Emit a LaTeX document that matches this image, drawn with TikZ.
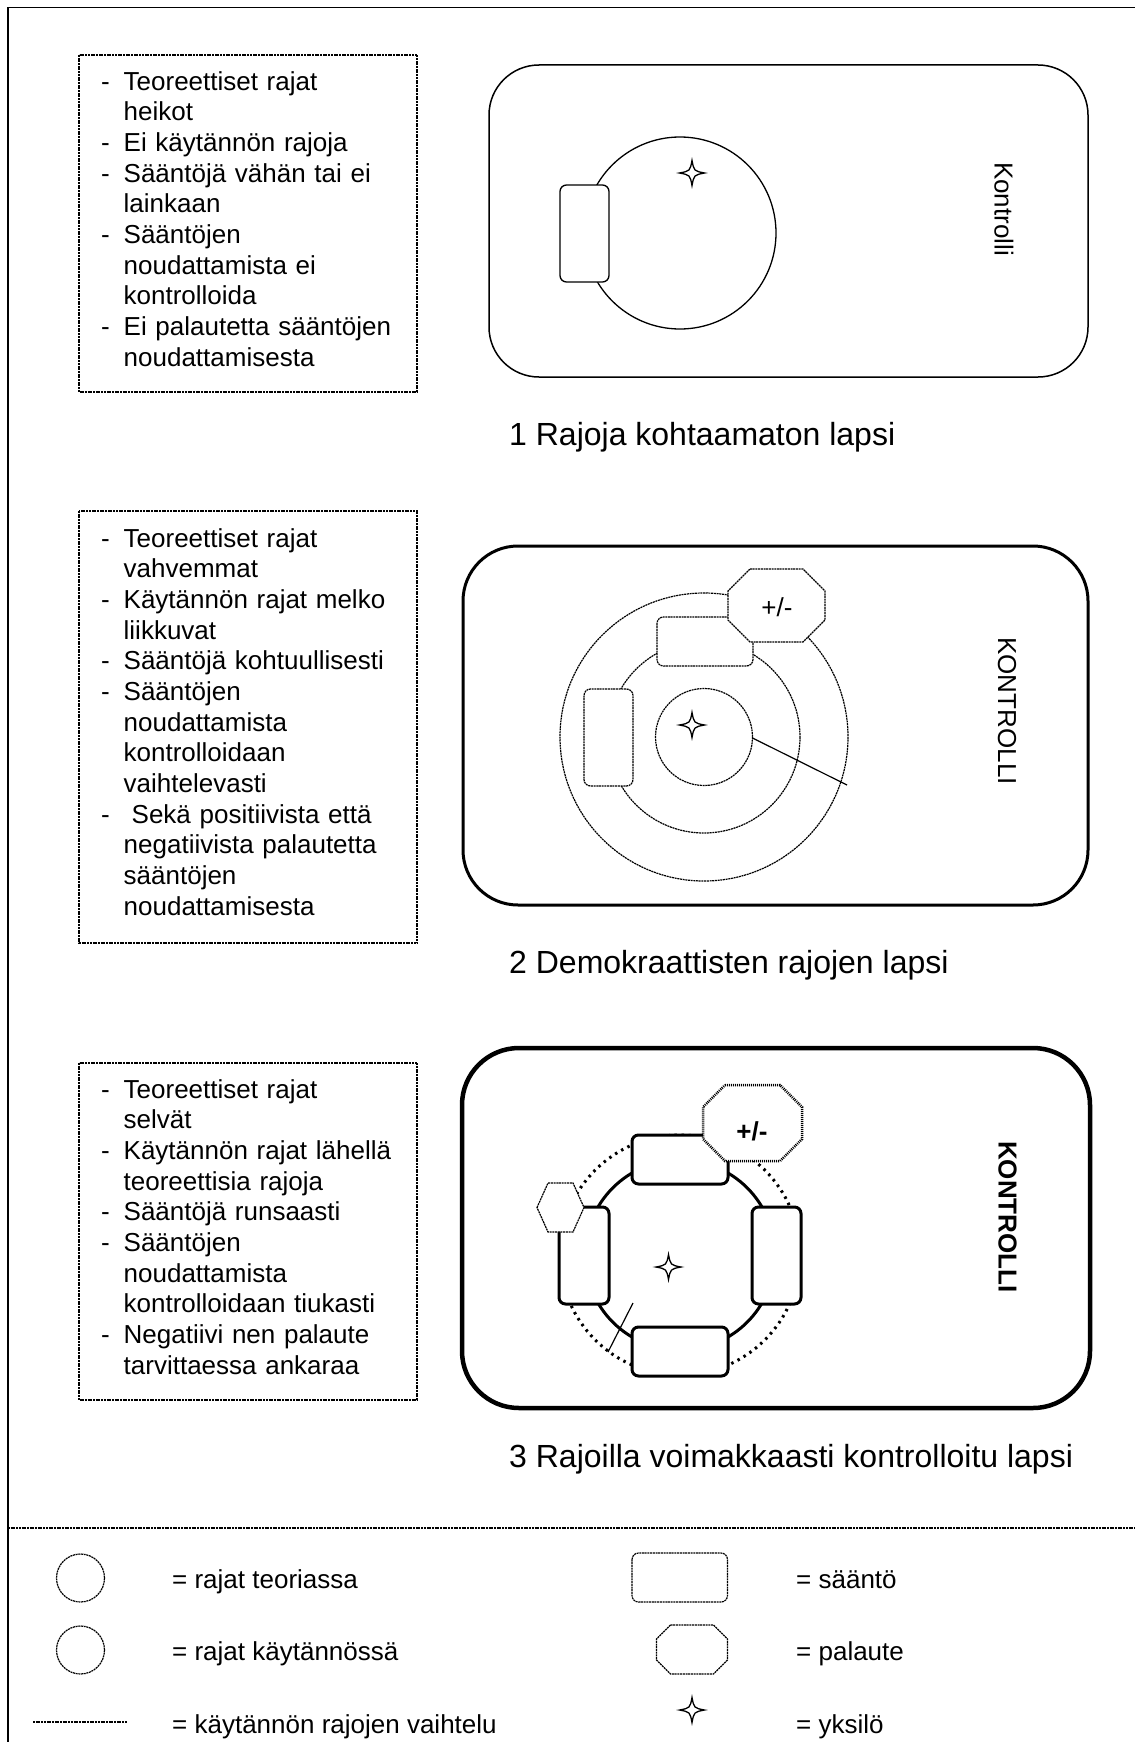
\documentclass[tikz,border=0pt]{standalone}
\usepackage{fontspec}
\setmainfont{Liberation Sans}
\setlength{\parindent}{0pt}
\newcommand\ditem[1]{\makebox[22.5pt][l]{-}#1}
\newcommand\dcont[1]{\hspace*{22.5pt}#1}
\tikzset{
  fine/.style={line width=1.2pt, dash pattern=on 2pt off 0.7pt},
  bodyfont/.style={font=\fontsize{26}{30.67}\selectfont},
  boldfont/.style={font=\fontsize{26}{30.67}\selectfont\bfseries},
  capfont/.style={font=\fontsize{32}{38}\selectfont},
  listtxt/.style={bodyfont, anchor=north west, inner sep=0pt, text width=310pt, align=left},
  legtxt/.style={bodyfont, anchor=base west, inner sep=0pt},
  captxt/.style={capfont, anchor=base west, inner sep=0pt},
  sidetxt/.style={rotate=-90, inner sep=0pt},
  rulebox/.style={rounded corners=6.5pt, fill=white},
  yks/.pic={\draw[line width=1.3pt, fill=white] (0,-12.5) .. controls (2,-2) .. (12.5,0) .. controls (2,2) .. (0,12.5) .. controls (-2,2) .. (-12.5,0) .. controls (-2,-2) .. cycle;}
}
\begin{document}
\begin{tikzpicture}[x=1pt,y=-1pt]
\useasboundingbox (0,0) rectangle (1135,1742);
\fill[white] (0,0) rectangle (1135,1742);
% frame
\draw[line width=1.5pt] (8,1742) -- (8,7.5) -- (1135,7.5);
\draw[fine] (8,1528) -- (1135,1528);

% ---------- text boxes ----------
\draw[fine] (79,55) rectangle (417,392);
\node[listtxt] (t1) at (101,66) {\rule{0pt}{24pt}\ditem{Teoreettiset rajat}\\
\dcont{heikot}\\
\ditem{Ei käytännön rajoja}\\
\ditem{Sääntöjä vähän tai ei}\\
\dcont{lainkaan}\\
\ditem{Sääntöjen}\\
\dcont{noudattamista ei}\\
\dcont{kontrolloida}\\
\ditem{Ei palautetta sääntöjen}\\
\dcont{noudattamisesta}};

\draw[fine] (79,511) rectangle (417,943);
\node[listtxt] (t2) at (101,523) {\rule{0pt}{24pt}\ditem{Teoreettiset rajat}\\
\dcont{vahvemmat}\\
\ditem{Käytännön rajat melko}\\
\dcont{liikkuvat}\\
\ditem{Sääntöjä kohtuullisesti}\\
\ditem{Sääntöjen}\\
\dcont{noudattamista}\\
\dcont{kontrolloidaan}\\
\dcont{vaihtelevasti}\\
\ditem{\hspace{8pt}Sekä positiivista että}\\
\dcont{negatiivista palautetta}\\
\dcont{sääntöjen}\\
\dcont{noudattamisesta}};

\draw[fine] (79,1063) rectangle (417,1400);
\node[listtxt] (t3) at (101,1074) {\rule{0pt}{24pt}\ditem{Teoreettiset rajat}\\
\dcont{selvät}\\
\ditem{Käytännön rajat lähellä}\\
\dcont{teoreettisia rajoja}\\
\ditem{Sääntöjä runsaasti}\\
\ditem{Sääntöjen}\\
\dcont{noudattamista}\\
\dcont{kontrolloidaan tiukasti}\\
\ditem{Negatiivi nen palaute}\\
\dcont{tarvittaessa ankaraa}};

% ---------- diagram 1 ----------
\draw[line width=1.5pt, rounded corners=50pt] (489,65) rectangle (1088,377);
\draw[line width=1.3pt] (680,233) circle[radius=96];
\draw[line width=1.3pt, rulebox] (560,185) rectangle (609,282);
\pic at (692,173) {yks};
\node[sidetxt, bodyfont] (k1) at (1004,209) {Kontrolli};
\node[captxt] (c1) at (509,445) {1 Rajoja kohtaamaton lapsi};

% ---------- diagram 2 ----------
\draw[line width=3pt, rounded corners=55pt] (463,546) rectangle (1088,905);
\draw[fine] (704,737) circle[radius=144];
\draw[fine] (704,737) circle[radius=96];
\draw[fine] (704,737) circle[radius=48.5];
\draw[line width=1.2pt] (752.5,738) -- (847,785);
\draw[fine, rulebox] (657,617) rectangle (753,666);
\draw[fine, rulebox] (584,689) rectangle (633,786);
\draw[fine, fill=white] (750,569) -- (803,569) -- (825,591) -- (825,620) -- (803,642) -- (750,642) -- (728,620) -- (728,591) -- cycle;
\node[bodyfont, inner sep=0pt] (pm2) at (777,607) {+/-};
\pic at (692,725) {yks};
\node[sidetxt, bodyfont] (k2) at (1007,711) {KONTROLLI};
\node[captxt] (c2) at (509,973) {2 Demokraattisten rajojen lapsi};

% ---------- diagram 3 ----------
\draw[line width=4.5pt, rounded corners=57pt] (462,1048) rectangle (1090,1408);
\draw[line width=3pt, dash pattern=on 2.5pt off 4.5pt] (680,1255) circle[radius=120];
\draw[line width=3pt] (680,1255) circle[radius=95];
\draw[line width=1.2pt] (633,1303) -- (608,1352);
\draw[line width=3pt, rulebox] (632,1135) rectangle (728,1184);
\draw[line width=3pt, rulebox] (632,1327) rectangle (728,1376);
\draw[line width=3pt, rulebox] (559,1207) rectangle (609,1304);
\draw[line width=3pt, rulebox] (752,1207) rectangle (801,1304);
\draw[fine, fill=white] (537,1207.5) -- (548,1183) -- (573,1183) -- (584,1207.5) -- (573,1232) -- (548,1232) -- cycle;
\draw[line width=2.5pt, dash pattern=on 1pt off 1pt, fill=white] (725,1085) -- (780,1085) -- (802,1107) -- (802,1139) -- (780,1161) -- (725,1161) -- (703,1139) -- (703,1107) -- cycle;
\node[boldfont, inner sep=0pt] (pm3) at (752,1131) {+/-};
\pic at (668.5,1267) {yks};
\node[sidetxt, boldfont] (k3) at (1007.5,1217) {KONTROLLI};
\node[captxt] (c3) at (509,1467) {3 Rajoilla voimakkaasti kontrolloitu lapsi};

% ---------- legend ----------
\draw[fine] (80.5,1578) circle[radius=24];
\draw[fine] (80.5,1650) circle[radius=24];
\draw[fine] (33,1722) -- (127,1722);
\draw[fine, rulebox] (632,1553) rectangle (727.5,1602);
\draw[fine] (670.5,1625) -- (713.5,1625) -- (727.5,1639) -- (727.5,1660) -- (713.5,1674) -- (670.5,1674) -- (656.5,1660) -- (656.5,1639) -- cycle;
\pic at (692,1710) {yks};
\node[legtxt] (l1) at (172,1588) {= rajat teoriassa};
\node[legtxt] (l2) at (172,1660) {= rajat käytännössä};
\node[legtxt] (l3) at (172,1733) {= käytännön rajojen vaihtelu};
\node[legtxt] (l4) at (796,1588) {= sääntö};
\node[legtxt] (l5) at (796,1660) {= palaute};
\node[legtxt] (l6) at (796,1733) {= yksilö};
\end{tikzpicture}
\end{document}
